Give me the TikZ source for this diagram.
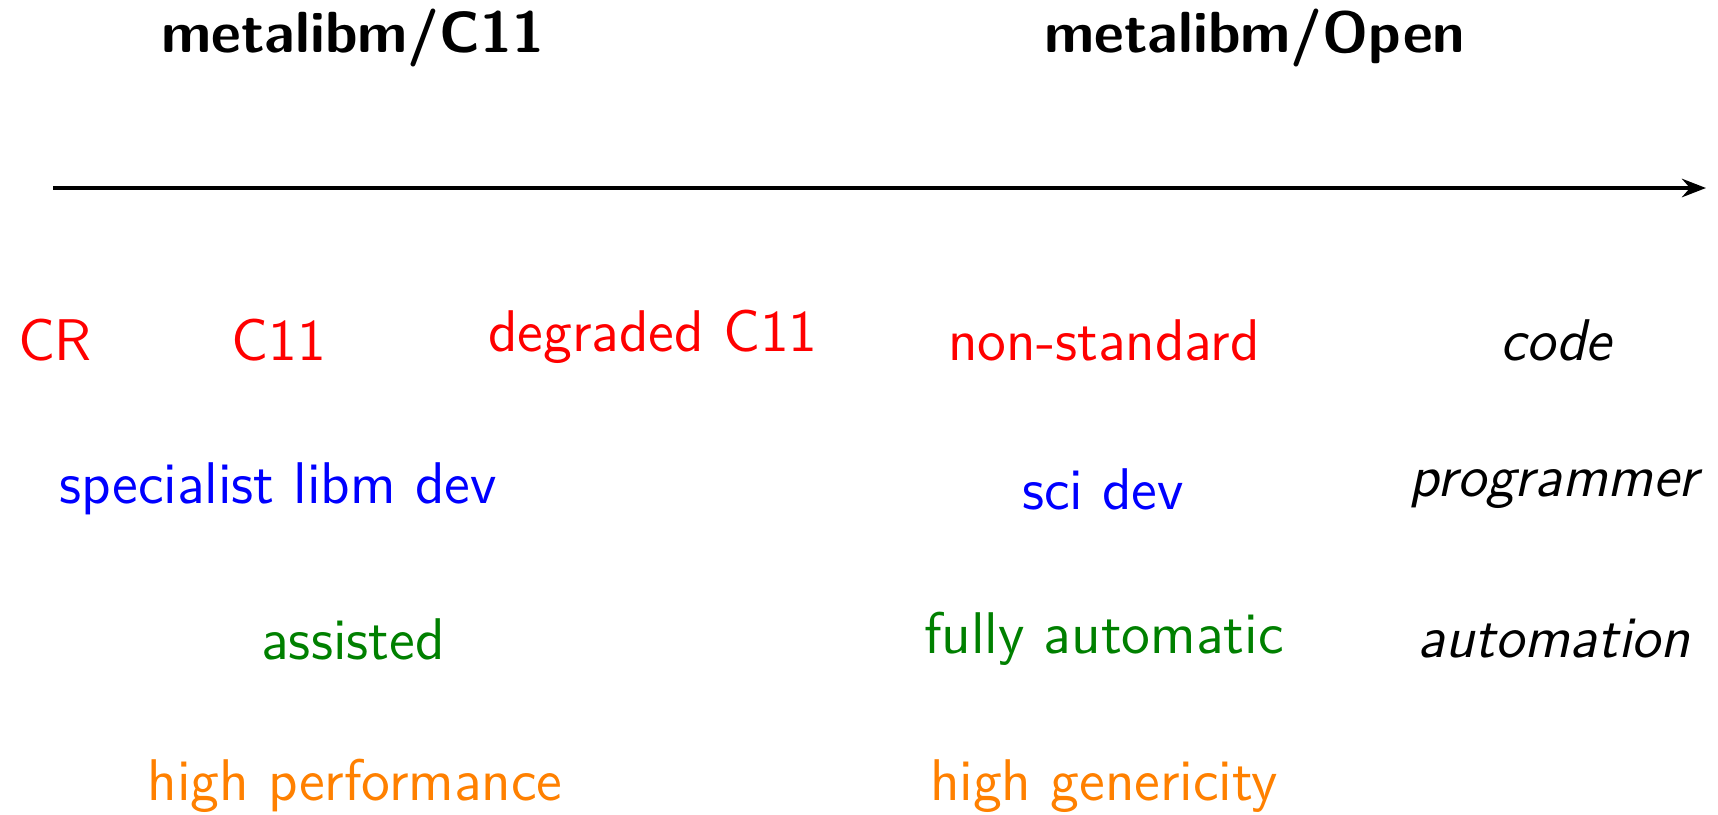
\documentclass[tikz,border=0pt]{standalone}
\usepackage{amsmath}
\usepackage{tikz}
\usetikzlibrary{arrows.meta}

\definecolor{darkgreen}{rgb}{0,0.5,0}
\definecolor{orangeish}{rgb}{1,0.5,0}

\tikzset{
  lbl/.style={font=\fontsize{14.7}{17}\selectfont\sffamily, inner sep=0pt},
  ttl/.style={lbl, font=\fontsize{14.5}{17}\selectfont\sffamily\bfseries},
  slnt/.style={lbl, font=\fontsize{14.7}{17}\selectfont\sffamily\itshape},
}

\begin{document}
\begin{tikzpicture}[x=0.25pt,y=0.25pt,yscale=-1,xscale=1]
\useasboundingbox (0,0) rectangle (1718,815);

% Text Node
\node [ttl] (c11) at (353,38) {metalibm/C11};
% Text Node
\node [ttl] (open) at (1255,38) {metalibm/Open};

%Straight Lines
\coordinate (start) at (53,188);
\coordinate (stop) at (1706,188);
\draw [line width=1pt, -{Stealth[length=6pt,width=4.6pt,inset=2pt]}] (start) -- (stop);

% Text Node
\node [lbl, red] (cr) at (55,340) {CR};
% Text Node
\node [lbl, red] (cstd) at (279,340) {C11};
% Text Node
\node [lbl, red] (degr) at (653,337) {degraded C11};
% Text Node
\node [lbl, red] (nonstd) at (1104,340) {non-standard};
% Text Node
\node [slnt] (code) at (1556,340) {code};

% Text Node
\node [lbl, blue] (spec) at (278,489) {specialist libm dev};
% Text Node
\node [lbl, blue] (sci) at (1103,489) {sci dev};
% Text Node
\node [slnt] (prog) at (1554,489) {programmer};

% Text Node
\node [lbl, darkgreen] (assist) at (353,639) {assisted};
% Text Node
\node [lbl, darkgreen] (fully) at (1104,639) {fully automatic};
% Text Node
\node [slnt] (auto) at (1554,639) {automation};

% Text Node
\node [lbl, orangeish] (perf) at (355,786) {high performance};
% Text Node
\node [lbl, orangeish] (gener) at (1104,786) {high genericity};
\end{tikzpicture}
\end{document}
